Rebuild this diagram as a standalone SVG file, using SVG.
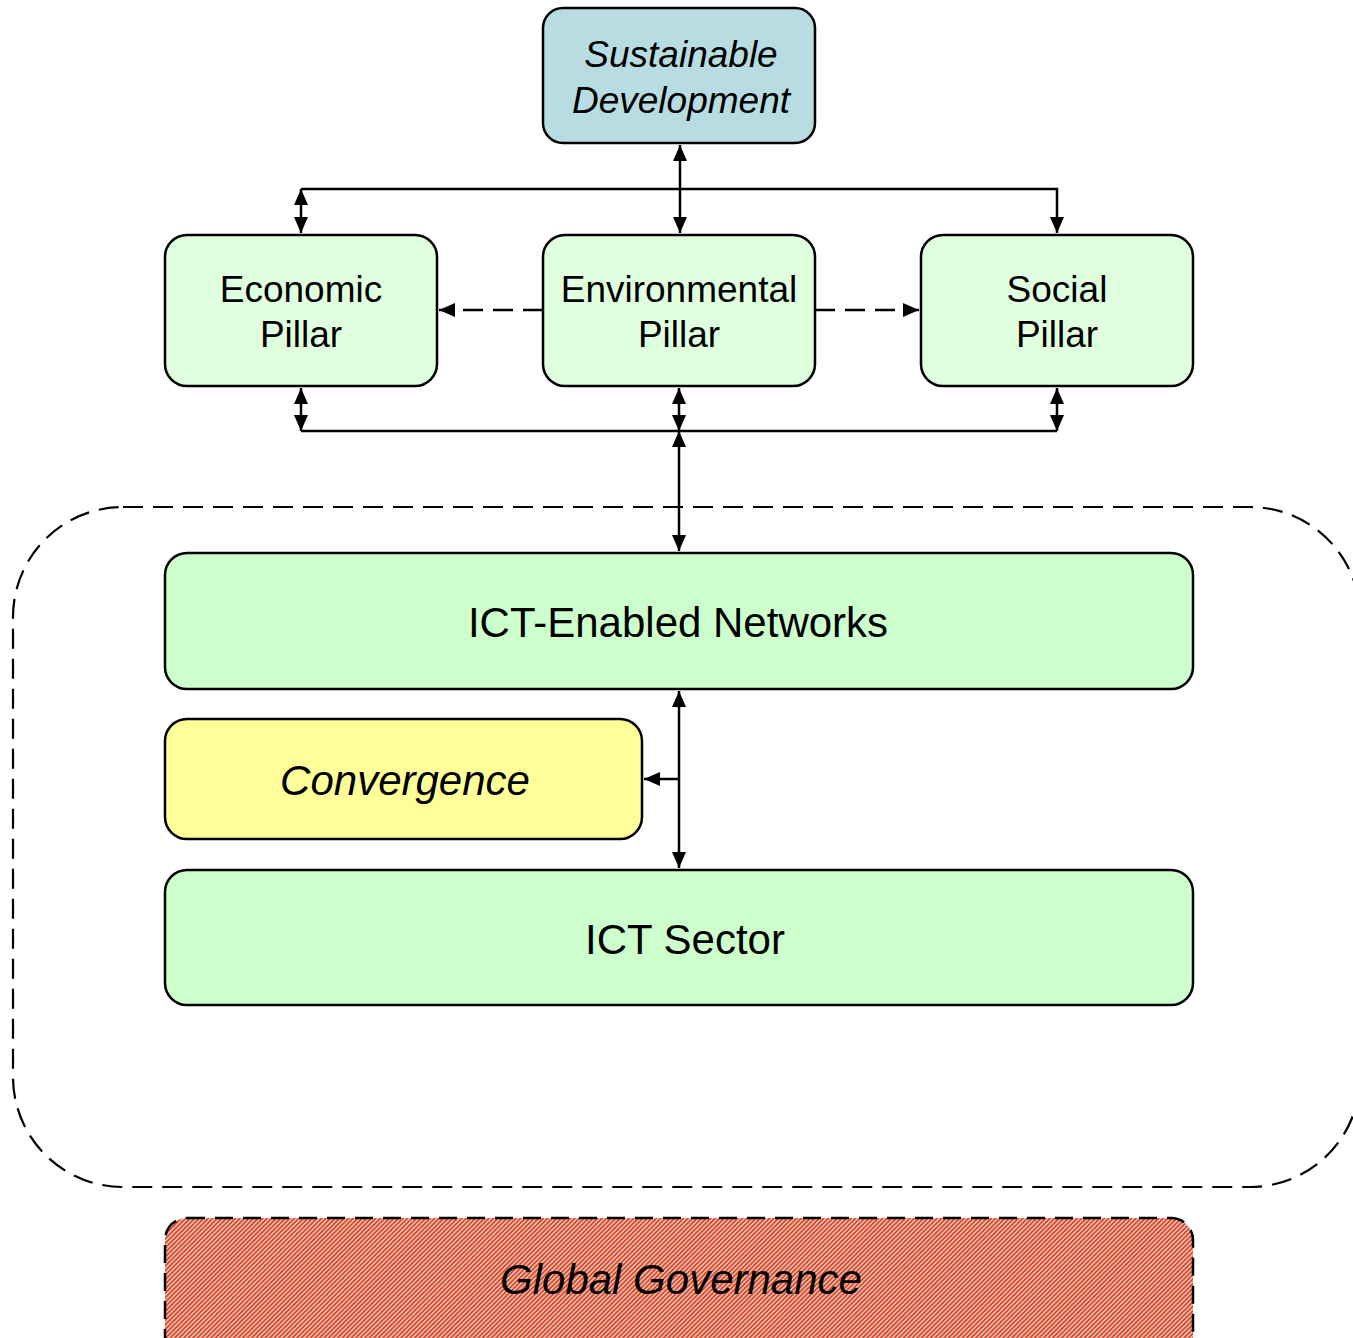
<svg xmlns="http://www.w3.org/2000/svg" width="1353" height="1338" viewBox="0 0 1353 1338">
<style>
.box{stroke:#000;stroke-width:2.5}
.t{font-family:"Liberation Sans",Arial,sans-serif;fill:#000;text-anchor:middle}
.s37{font-size:37px}
.s42{font-size:42px}
.it{font-style:italic}
.c{fill:none;stroke:#000;stroke-width:2.5}
.dash{stroke-dasharray:20 10}
</style>
<defs>
<marker id="ah" markerUnits="userSpaceOnUse" markerWidth="17" markerHeight="15" refX="16" refY="7" orient="auto-start-reverse" viewBox="0 0 17 14">
<path d="M0,0 L16,7 L0,14 z" fill="#000"/>
</marker>
<pattern id="hatch" width="3.2" height="10" patternUnits="userSpaceOnUse" patternTransform="rotate(45)">
<rect width="3.2" height="10" fill="#bfc8c5"/>
<rect width="1.6" height="10" fill="#ff3a10"/>
</pattern>
</defs>
<rect x="13" y="507" width="1347" height="680" rx="110" ry="110" fill="none" stroke="#000" stroke-width="2.2" stroke-dasharray="20 10"/>
<g id="connectors">
<line class="c" x1="680" y1="145" x2="680" y2="233" marker-start="url(#ah)" marker-end="url(#ah)"/>
<polyline class="c" points="301,189 1057,189 1057,233" marker-end="url(#ah)"/>
<line class="c" x1="301" y1="189" x2="301" y2="233" marker-start="url(#ah)" marker-end="url(#ah)"/>
<line class="c" x1="301" y1="431" x2="1057" y2="431"/>
<line class="c" x1="301" y1="388" x2="301" y2="431" marker-start="url(#ah)" marker-end="url(#ah)"/>
<line class="c" x1="679" y1="388" x2="679" y2="431" marker-start="url(#ah)" marker-end="url(#ah)"/>
<line class="c" x1="1057" y1="388" x2="1057" y2="431" marker-start="url(#ah)" marker-end="url(#ah)"/>
<line class="c" x1="679" y1="431" x2="679" y2="551" marker-start="url(#ah)" marker-end="url(#ah)"/>
<line class="c dash" x1="543" y1="310" x2="439" y2="310" marker-end="url(#ah)"/>
<line class="c dash" x1="815" y1="310" x2="919" y2="310" marker-end="url(#ah)"/>
<line class="c" x1="679" y1="691" x2="679" y2="868" marker-start="url(#ah)" marker-end="url(#ah)"/>
<line class="c" x1="679" y1="779" x2="644" y2="779" marker-end="url(#ah)"/>
</g>
<g id="sustainable-development">
<rect class="box" x="543" y="8" width="272" height="135" rx="20" fill="#b7dde2"/>
<text class="t s37 it" x="681" y="67">Sustainable</text>
<text class="t s37 it" x="681" y="113">Development</text>
</g>
<g id="economic-pillar">
<rect class="box" x="165" y="235" width="272" height="151" rx="22" fill="#e0ffdf"/>
<text class="t s37" x="301" y="302">Economic</text>
<text class="t s37" x="301" y="347">Pillar</text>
</g>
<g id="environmental-pillar">
<rect class="box" x="543" y="235" width="272" height="151" rx="22" fill="#e0ffdf"/>
<text class="t s37" x="679" y="302">Environmental</text>
<text class="t s37" x="679" y="347">Pillar</text>
</g>
<g id="social-pillar">
<rect class="box" x="921" y="235" width="272" height="151" rx="22" fill="#e0ffdf"/>
<text class="t s37" x="1057" y="302">Social</text>
<text class="t s37" x="1057" y="347">Pillar</text>
</g>
<g id="ict-enabled-networks">
<rect class="box" x="165" y="553" width="1028" height="136" rx="22" fill="#ccffcc"/>
<text class="t s42" x="678" y="637">ICT-Enabled Networks</text>
</g>
<g id="convergence">
<rect class="box" x="165" y="719" width="477" height="120" rx="22" fill="#ffff99"/>
<text class="t s42 it" x="405" y="795">Convergence</text>
</g>
<g id="ict-sector">
<rect class="box" x="165" y="870" width="1028" height="135" rx="22" fill="#ccffcc"/>
<text class="t s42" x="685" y="954">ICT Sector</text>
</g>
<g id="global-governance">
<rect x="165" y="1218" width="1028" height="140" rx="22" fill="url(#hatch)" stroke="#000" stroke-width="2.5" stroke-dasharray="18 10"/>
<text class="t s42 it" x="681" y="1294">Global Governance</text>
</g>
</svg>
